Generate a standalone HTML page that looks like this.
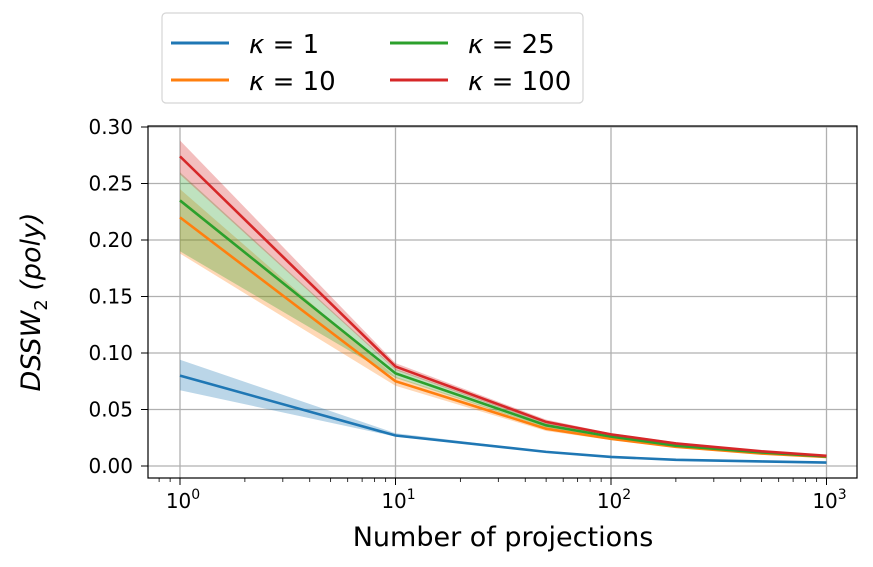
<!DOCTYPE html>
<html><head><meta charset="utf-8"><style>
body{margin:0;background:#fff;}
svg{display:block;font-family:"DejaVu Sans","Liberation Sans",sans-serif;}
</style></head><body>
<svg id="chart" width="873" height="567">
<g id="grid"></g>
<g id="bands"></g>
<g id="lines"></g>
<rect x="148" y="126" width="709" height="352" fill="none" stroke="#000" stroke-width="1.2"/>
<g id="ticks"></g>
<text x="503" y="546" font-size="27" text-anchor="middle">Number of projections</text>
<text transform="translate(40,302) rotate(-90)" font-size="27" text-anchor="middle" font-style="italic">DSSW<tspan font-size="18" dy="7" font-style="normal">2</tspan><tspan dy="-7"> (poly)</tspan></text>
<g>
<rect x="162" y="13" width="421" height="90" rx="4" fill="#fff" stroke="#d5d5d5" stroke-width="1.2"/>
<g><line x1="171" y1="43" x2="229" y2="43" stroke="#1f77b4" stroke-width="3"/><text x="249" y="53" font-size="26"><tspan font-style="italic">κ</tspan> = 1</text></g>
<g><line x1="171" y1="80" x2="229" y2="80" stroke="#ff7f0e" stroke-width="3"/><text x="249" y="90" font-size="26"><tspan font-style="italic">κ</tspan> = 10</text></g>
<g><line x1="390" y1="43" x2="448" y2="43" stroke="#2ca02c" stroke-width="3"/><text x="468" y="53" font-size="26"><tspan font-style="italic">κ</tspan> = 25</text></g>
<g><line x1="390" y1="80" x2="448" y2="80" stroke="#d62728" stroke-width="3"/><text x="468" y="90" font-size="26"><tspan font-style="italic">κ</tspan> = 100</text></g>
</g>
</svg>
<script>
const projections=[1,10,50,100,200,500,1000];
const k1=[0.080,0.027,0.0125,0.008,0.0055,0.004,0.003];
const k1Lo=[0.067,0.026,0.012,0.0075,0.005,0.0037,0.0028];
const k1Hi=[0.094,0.029,0.013,0.0085,0.006,0.0043,0.0032];
const k10=[0.220,0.075,0.033,0.024,0.017,0.011,0.008];
const k10Lo=[0.188,0.071,0.031,0.023,0.016,0.0105,0.0075];
const k10Hi=[0.245,0.079,0.035,0.025,0.018,0.0115,0.0085];
const k25=[0.235,0.082,0.036,0.026,0.018,0.012,0.0085];
const k25Lo=[0.190,0.078,0.034,0.025,0.017,0.0115,0.008];
const k25Hi=[0.260,0.086,0.038,0.027,0.019,0.0125,0.009];
const k100=[0.274,0.088,0.039,0.028,0.020,0.013,0.009];
const k100Lo=[0.258,0.085,0.037,0.027,0.019,0.0125,0.0085];
const k100Hi=[0.288,0.091,0.041,0.029,0.021,0.0135,0.0095];
const yTicks=[0,0.05,0.10,0.15,0.20,0.25,0.30];
const yTickLabels=["0.00","0.05","0.10","0.15","0.20","0.25","0.30"];
const xTicks=[1,10,100,1000];
const xTickExp=["0","1","2","3"];
const NS="http://www.w3.org/2000/svg";
function xS(v){return 180+Math.log10(v)*215.5;}
function yS(v){return 466-v*1130;}
function mk(tag,attrs,parent){const e=document.createElementNS(NS,tag);for(const k in attrs)e.setAttribute(k,attrs[k]);parent.appendChild(e);return e;}
const grid=document.getElementById('grid'),ticks=document.getElementById('ticks'),bands=document.getElementById('bands'),lines=document.getElementById('lines');
yTicks.forEach((v,i)=>{
 const g=mk('line',{x1:148,x2:857,y1:yS(v),y2:yS(v),stroke:'#b0b0b0','stroke-width':1.3},grid);
 
 
 mk('line',{x1:141,x2:148,y1:yS(v),y2:yS(v),stroke:'#000','stroke-width':1},ticks);
 const t=mk('text',{x:133,y:yS(v)+7,'font-size':20,'text-anchor':'end'},ticks);
 t.textContent=yTickLabels[i];
 
 
});
xTicks.forEach((v,i)=>{
 const g=mk('line',{x1:xS(v),x2:xS(v),y1:126,y2:478,stroke:'#b0b0b0','stroke-width':1.3},grid);
 
 
 mk('line',{x1:xS(v),x2:xS(v),y1:478,y2:485,stroke:'#000','stroke-width':1},ticks);
 const t=mk('text',{x:xS(v)+3,y:508,'font-size':20,'text-anchor':'middle'},ticks);
 t.innerHTML='10<tspan font-size="14" dy="-9">'+xTickExp[i]+'</tspan>';
 
 
});
for(let d=0;d<4;d++){for(let m=2;m<10;m++){const v=Math.pow(10,d-1)*m;const x=xS(v);if(x<148||x>857)continue;
 mk('line',{x1:x,x2:x,y1:478,y2:482,stroke:'#000','stroke-width':0.8},ticks);}}
function band(lo,hi,color,name){
 let d='M'+projections.map((p,i)=>xS(p)+','+yS(hi[i])).join('L');
 d+='L'+projections.slice().reverse().map((p,j)=>{const i=projections.length-1-j;return xS(p)+','+yS(lo[i]);}).join('L')+'Z';
 const e=mk('path',{d:d,fill:color,'fill-opacity':0.3},bands);
 
 
}
function line(vals,color,name){
 const e=mk('polyline',{points:projections.map((p,i)=>xS(p)+','+yS(vals[i])).join(' '),fill:'none',stroke:color,'stroke-width':2.6},lines);
 
 
}
band(k1Lo,k1Hi,'#1f77b4','band-k1');
band(k10Lo,k10Hi,'#ff7f0e','band-k10');
band(k25Lo,k25Hi,'#2ca02c','band-k25');
band(k100Lo,k100Hi,'#d62728','band-k100');
line(k1,'#1f77b4','line-k1');
line(k10,'#ff7f0e','line-k10');
line(k25,'#2ca02c','line-k25');
line(k100,'#d62728','line-k100');
</script>
</body></html>
